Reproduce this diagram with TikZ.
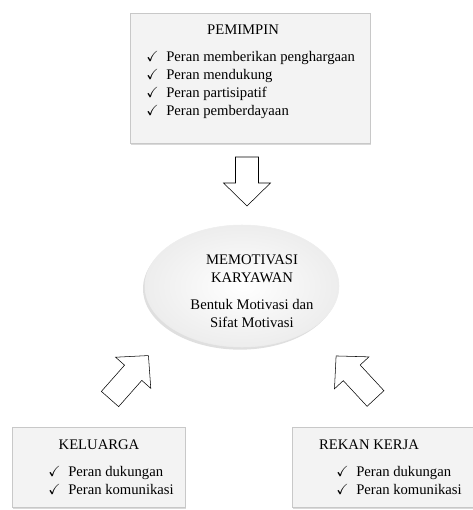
\documentclass[tikz,border=0pt]{standalone}
\usepackage{fontspec}
\setmainfont{Liberation Serif}
\usepackage{amssymb}
\usetikzlibrary{shapes.geometric,shadows,positioning}
\definecolor{boxfill}{HTML}{F3F3F3}
\definecolor{boxline}{HTML}{C8C8C8}
\definecolor{ovaledge}{HTML}{EDEDED}
\newcommand{\cek}{\makebox[15pt][l]{$\checkmark$}}

\begin{document}
\begin{tikzpicture}[x=0.75pt,y=-0.75pt,
      font=\fontsize{11}{13.5}\selectfont,
      panel/.style={draw=boxline,fill=boxfill,inner sep=0pt,
        drop shadow={shadow xshift=1pt,shadow yshift=-1.5pt,opacity=0.3}},
      oval/.style={ellipse,draw=ovaledge,shade,inner color=white,outer color=ovaledge,
        minimum width=145.5pt,minimum height=91.5pt,inner sep=0pt,
        drop shadow={shadow xshift=-1.5pt,shadow yshift=-2pt,opacity=0.25}},
      judul/.style={inner sep=0pt},
      daftar/.style={inner sep=0pt,align=left,anchor=north west},
      pics/blok/.style={code={\draw[fill=white,line join=miter]
        (0,-11.5) -- (#1,-11.5) -- (#1,-23.5) -- (#1+23,0) -- (#1,23.5) -- (#1,11.5) -- (0,11.5) -- cycle;}}]
    \useasboundingbox (0,0) rectangle (472,510);
    % pemimpin
    \node[panel,minimum width=180pt,minimum height=97.5pt] (pemimpin) at (250,78) {};
    \node[judul] (tPemimpin) at (243,30) {PEMIMPIN};
    \node[daftar] (lPemimpin) at (146,51) {\cek Peran memberikan penghargaan\\ \cek Peran mendukung\\
      \cek Peran partisipatif\\ \cek Peran pemberdayaan};
    % pusat
    \node[oval] (motivasi) at (242,286) {};
    \node[judul,align=center] (tMotivasi) at (252,291) {MEMOTIVASI\\KARYAWAN\\[6.75pt]Bentuk Motivasi dan\\Sifat Motivasi};
    % keluarga dan rekan kerja
    \node[panel,minimum width=129.75pt,minimum height=60pt] (keluarga) at (98.5,467) {};
    \node[judul] (tKeluarga) at (99,445) {KELUARGA};
    \node[daftar] (lKeluarga) at (48,466) {\cek Peran dukungan\\ \cek Peran komunikasi};
    \node[panel,minimum width=139.5pt,minimum height=60pt] (rekan) at (385,467) {};
    \node[judul] (tRekan) at (369,445) {REKAN KERJA};
    \node[daftar] (lRekan) at (336,466) {\cek Peran dukungan\\ \cek Peran komunikasi};
    % panah blok
    \pic[rotate=-90] at (247,157) {blok=26};
    \pic[rotate=48.5] at (110,399) {blok=35};
    \pic[rotate=132.8] at (375.5,398.5) {blok=35};
  \end{tikzpicture}
\end{document}
